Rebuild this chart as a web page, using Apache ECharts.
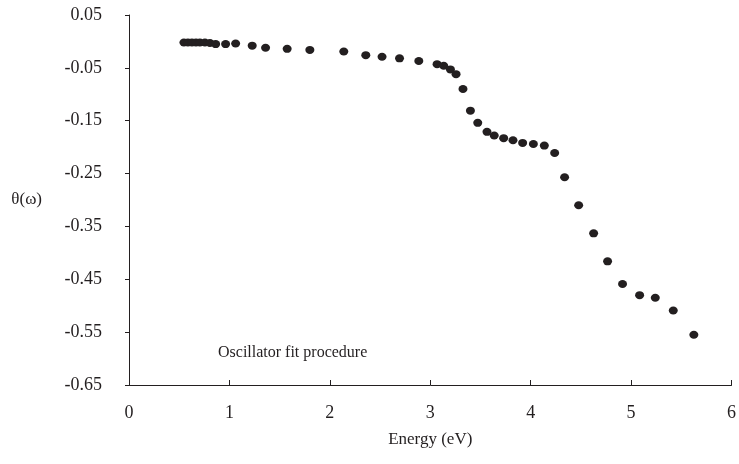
<!DOCTYPE html>
<html>
<head>
<meta charset="utf-8">
<script src="https://cdn.jsdelivr.net/npm/echarts@6/dist/echarts.min.js"></script>
<style>html,body{margin:0;padding:0;background:#fff}#c{width:739px;height:464px}</style>
</head>
<body>
<div id="c"></div>
<script>
const energy = [0.547,0.587,0.627,0.667,0.706,0.756,0.806,0.863,0.962,1.062,1.227,1.360,1.575,1.801,2.139,2.358,2.520,2.694,2.886,3.068,3.134,3.201,3.257,3.326,3.400,3.473,3.565,3.637,3.731,3.824,3.920,4.027,4.136,4.239,4.338,4.478,4.627,4.766,4.915,5.085,5.241,5.420,5.625];
const theta = [-0.002,-0.002,-0.002,-0.002,-0.002,-0.002,-0.003,-0.005,-0.005,-0.004,-0.008,-0.012,-0.014,-0.016,-0.019,-0.026,-0.029,-0.032,-0.037,-0.043,-0.046,-0.053,-0.062,-0.090,-0.131,-0.154,-0.171,-0.178,-0.183,-0.187,-0.192,-0.194,-0.197,-0.211,-0.257,-0.310,-0.363,-0.416,-0.459,-0.480,-0.485,-0.509,-0.555];
const xTicks = {min: 0, max: 6, step: 1};
const yTicks = {min: -0.65, max: 0.05, step: 0.1};
const note = 'Oscillator fit procedure';

const font = 'Liberation Serif';
const chart = echarts.init(document.getElementById('c'), null, {renderer: 'canvas'});
chart.setOption({
  animation: false,
  backgroundColor: '#fff',
  grid: {left: 129, right: 6, top: 15, bottom: 79, containLabel: false},
  xAxis: {
    type: 'value', min: xTicks.min, max: xTicks.max, interval: xTicks.step,
    name: 'Energy (eV)', nameLocation: 'middle', nameGap: 46,
    nameTextStyle: {fontFamily: font, fontSize: 17, color: '#231f20'},
    axisLine: {show: true, onZero: false, lineStyle: {color: '#231f20', width: 1}},
    axisTick: {show: true, inside: true, length: 5, lineStyle: {color: '#231f20'}},
    axisLabel: {fontFamily: font, fontSize: 18, color: '#231f20', margin: 19},
    splitLine: {show: false}
  },
  yAxis: {
    type: 'value', min: yTicks.min, max: yTicks.max, interval: yTicks.step,
    name: 'θ(ω)', nameLocation: 'middle', nameGap: 87, nameRotate: 0,
    nameTextStyle: {fontFamily: font, fontSize: 17, color: '#231f20'},
    axisLine: {show: true, onZero: false, lineStyle: {color: '#231f20', width: 1}},
    axisTick: {show: true, inside: false, length: 4, lineStyle: {color: '#231f20'}},
    axisLabel: {fontFamily: font, fontSize: 18, color: '#231f20', margin: 27,
      formatter: v => (Math.abs(v) < 1e-9 ? 0 : v).toFixed(2)},
    splitLine: {show: false}
  },
  graphic: [{
    type: 'text', left: 218, top: 345,
    style: {text: note, font: '16px "Liberation Serif"', fill: '#231f20'}
  }],
  series: [{
    type: 'scatter',
    data: energy.map((e, i) => [e, theta[i]]),
    symbol: 'circle', symbolSize: [9, 8],
    itemStyle: {color: '#231f20', opacity: 1}
  }]
});
</script>
</body>
</html>
